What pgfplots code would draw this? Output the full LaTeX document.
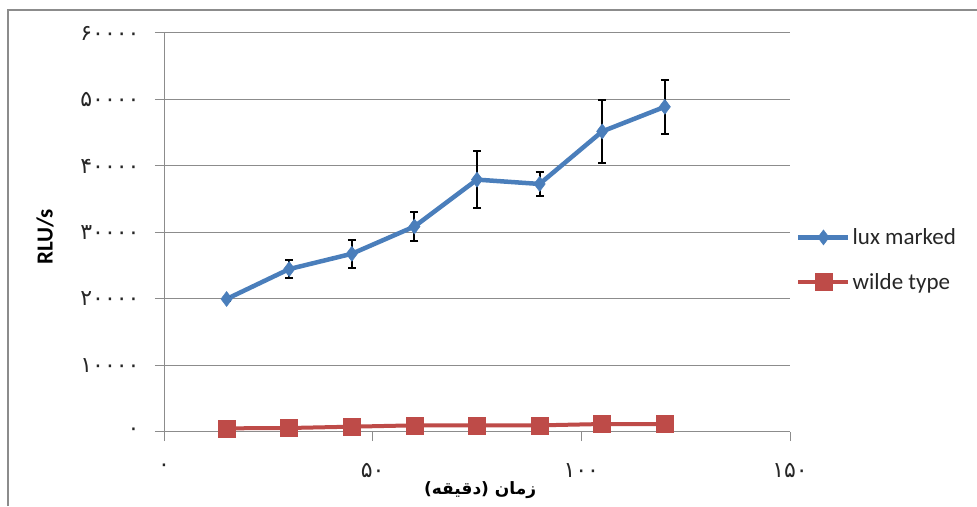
\documentclass[border=0pt]{standalone}
\usepackage{fontspec}
\usepackage{pgfplots}
\pgfplotsset{compat=1.18}
\setmainfont{Carlito}
\newfontfamily\digfont{DejaVu Sans}
\newfontfamily\arabicfont[Script=Arabic]{DejaVu Sans}
\TeXXeTstate=1
\definecolor{xblue}{HTML}{4A7EBB}
\definecolor{xred}{HTML}{BE4B48}
\definecolor{xgrid}{HTML}{8C8C8C}
\pgfplotstableread{
x y e
15 20000 300
30 24500 1400
45 26800 2100
60 30900 2250
75 37950 4250
90 37300 1830
105 45200 4770
120 48900 4060
}\luxdata
\pgfplotstableread{
x y
15 550
30 600
45 800
60 1000
75 1000
90 1000
105 1200
120 1200
}\wilddata
\begin{document}
\begin{tikzpicture}
\useasboundingbox (0,0) rectangle (977pt,506pt);
\fill[white] (0,0) rectangle (977pt,506pt);
\draw[color=black!45, line width=1.2pt] (8pt,0) -- (8pt,496pt) -- (977pt,496pt);
\begin{axis}[
 at={(164pt,74pt)}, anchor=south west,
 scale only axis, width=626pt, height=399pt,
 xmin=0, xmax=150, ymin=0, ymax=60000,
 axis x line*=bottom, axis y line*=left,
 axis line style={xgrid, line width=1pt},
 xtick={0,50,100,150}, xticklabels={۰,۵۰,۱۰۰,۱۵۰},
 ytick={0,10000,20000,30000,40000,50000,60000},
 yticklabels={۰,۱۰۰۰۰,۲۰۰۰۰,۳۰۰۰۰,۴۰۰۰۰,۵۰۰۰۰,۶۰۰۰۰},
 scaled y ticks=false,
 tick align=outside, major tick length=9pt,
 tick style={xgrid, line width=1pt},
 ymajorgrids, grid style={xgrid, line width=1pt},
 ticklabel style={font=\digfont\fontsize{22}{24}\selectfont, text=black!85},
 yticklabel style={xshift=-12pt},
 xticklabel style={yshift=-19pt},
 xlabel={\arabicfont\bfseries\fontsize{17}{19}\selectfont\beginR زمان (دقیقه)\endR},
 xlabel style={at={(axis description cs:0.505,0)}, anchor=center, yshift=-58pt},
 ylabel={\bfseries\fontsize{23}{26}\selectfont RLU/s},
 ylabel style={at={(axis description cs:-0.19,0.489)}, anchor=center},
 legend style={at={(axis description cs:1,0.432)}, anchor=west, xshift=6pt, draw=none, fill=none,
   font=\fontsize{23}{26}\selectfont, row sep=23pt, inner sep=0pt, nodes={inner sep=2pt, text=black!85}},
 legend cell align=left,
 legend image code/.code={\draw[mark repeat=2,mark phase=2,#1] plot coordinates {(0pt,0pt)(25pt,0pt)(50pt,0pt)};},
 clip=false,
]
\addplot[xblue, line width=4.5pt, mark=diamond*, mark size=7.5pt, mark options={solid, line width=0.5pt, fill=xblue},
  error bars/.cd, y dir=both, y explicit,
  error bar style={black, line width=2pt},
  error mark options={rotate=90, black, mark size=4pt, line width=2pt}]
  table[x=x, y=y, y error=e] {\luxdata};
\addlegendentry{lux marked}
\addplot[xred, line width=4pt, mark=square*, mark size=8.5pt, mark options={solid, line width=0.5pt, fill=xred}]
  table[x=x, y=y] {\wilddata};
\addlegendentry{wilde type}
\end{axis}
\end{tikzpicture}
\end{document}
